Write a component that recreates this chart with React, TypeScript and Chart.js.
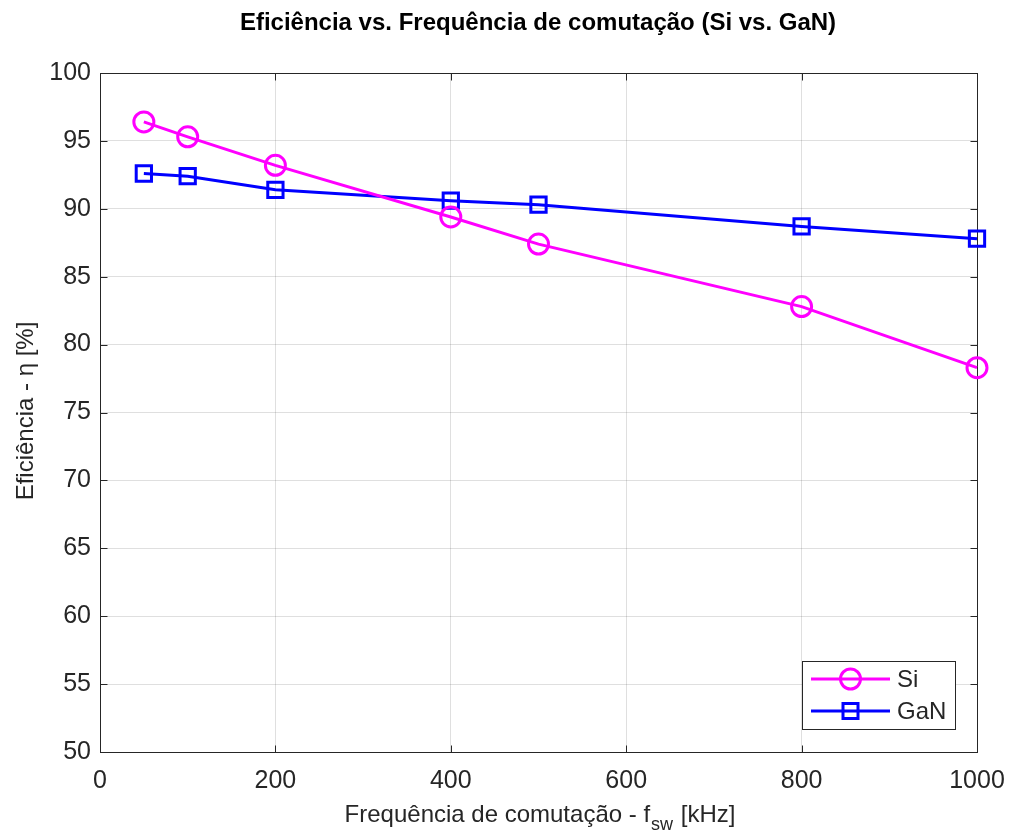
import React, { useEffect, useRef } from 'react';
import { Chart, registerables } from 'chart.js';

Chart.register(...registerables);

const freqs = [50, 100, 200, 400, 500, 800, 1000];
const siEff = [96.4, 95.3, 93.2, 89.4, 87.4, 82.8, 78.3];
const ganEff = [92.6, 92.4, 91.4, 90.6, 90.3, 88.7, 87.8];
const xTicks = [0, 200, 400, 600, 800, 1000];
const yTicks = [50, 55, 60, 65, 70, 75, 80, 85, 90, 95, 100];
const seriesNames = ['Si', 'GaN'];
const titleText = 'Eficiência vs. Frequência de comutação (Si vs. GaN)';
const yTitleText = 'Eficiência - η [%]';
const xTitleMain = 'Frequência de comutação - f';
const xTitleSub = 'sw';
const xTitleEnd = ' [kHz]';

const W = 1013;
const H = 836;
const FONT = '"Liberation Sans", Arial, Helvetica, sans-serif';
const AXIS_COLOR = '#262626';
const SI_COLOR = '#FF00FF';
const GAN_COLOR = '#0000FF';
const TICK_SIZE = 25;
const LABEL_SIZE = 24;

const px = (v: number) => Math.round(v) + 0.5;

const decorPlugin = {
  id: 'decor',
  beforeDatasetsDraw(chart: any) {
    const { ctx, chartArea: a, scales } = chart;
    ctx.save();
    ctx.strokeStyle = AXIS_COLOR;
    ctx.lineWidth = 1;
    const L = px(a.left), R = px(a.right), T = px(a.top), B = px(a.bottom);
    ctx.strokeRect(L, T, R - L, B - T);
    const tl = 7;
    ctx.beginPath();
    xTicks.forEach((v) => {
      const x = px(scales.x.getPixelForValue(v));
      ctx.moveTo(x, B);
      ctx.lineTo(x, B - tl);
      ctx.moveTo(x, T);
      ctx.lineTo(x, T + tl);
    });
    yTicks.forEach((v) => {
      const y = px(scales.y.getPixelForValue(v));
      ctx.moveTo(L, y);
      ctx.lineTo(L + tl, y);
      ctx.moveTo(R, y);
      ctx.lineTo(R - tl, y);
    });
    ctx.stroke();
    ctx.restore();
  },
  afterDraw(chart: any) {
    const { ctx, chartArea: a } = chart;
    ctx.save();
    // Title
    ctx.fillStyle = '#000';
    ctx.font = `bold 24px ${FONT}`;
    ctx.textAlign = 'center';
    ctx.textBaseline = 'middle';
    ctx.fillText(titleText, 538, 23);

    // Y title
    ctx.fillStyle = AXIS_COLOR;
    ctx.font = `${LABEL_SIZE}px ${FONT}`;
    ctx.save();
    ctx.translate(26, 411);
    ctx.rotate(-Math.PI / 2);
    ctx.textAlign = 'center';
    ctx.textBaseline = 'middle';
    ctx.fillText(yTitleText, 0, 0);
    ctx.restore();

    // X title with subscript
    const mainFont = `${LABEL_SIZE}px ${FONT}`;
    const subFont = `18px ${FONT}`;
    ctx.font = mainFont;
    const w1 = ctx.measureText(xTitleMain).width;
    const w3 = ctx.measureText(xTitleEnd).width;
    ctx.font = subFont;
    const w2 = ctx.measureText(xTitleSub).width;
    const total = w1 + w2 + w3 + 2;
    const x0 = 540 - total / 2;
    const yb = 822;
    ctx.textAlign = 'left';
    ctx.textBaseline = 'alphabetic';
    ctx.font = mainFont;
    ctx.fillText(xTitleMain, x0, yb);
    ctx.font = subFont;
    ctx.fillText(xTitleSub, x0 + w1 + 1, yb + 8);
    ctx.font = mainFont;
    ctx.fillText(xTitleEnd, x0 + w1 + w2 + 2, yb);

    // Legend
    const lx = 802.5, ly = 661.5, lw = 153, lh = 68;
    ctx.fillStyle = '#fff';
    ctx.fillRect(lx, ly, lw, lh);
    ctx.strokeStyle = AXIS_COLOR;
    ctx.lineWidth = 1;
    ctx.strokeRect(lx, ly, lw, lh);
    const rows = [
      { name: seriesNames[0], color: SI_COLOR, y: 679, marker: 'circle' },
      { name: seriesNames[1], color: GAN_COLOR, y: 711, marker: 'rect' },
    ];
    rows.forEach((r) => {
      ctx.strokeStyle = r.color;
      ctx.lineWidth = 3;
      ctx.beginPath();
      ctx.moveTo(811, r.y);
      ctx.lineTo(890, r.y);
      ctx.stroke();
      ctx.beginPath();
      if (r.marker === 'circle') {
        ctx.arc(850.5, r.y, 10, 0, Math.PI * 2);
      } else {
        ctx.rect(850.5 - 7.5, r.y - 7.5, 15, 15);
      }
      ctx.stroke();
      ctx.fillStyle = AXIS_COLOR;
      ctx.font = `${LABEL_SIZE}px ${FONT}`;
      ctx.textAlign = 'left';
      ctx.textBaseline = 'middle';
      ctx.fillText(r.name, 897, r.y + 1);
    });
    ctx.restore();
  },
};

export default function App() {
  const ref = useRef<HTMLCanvasElement>(null);
  useEffect(() => {
    if (!ref.current) return;
    const chart = new Chart(ref.current, {
      type: 'line',
      data: {
        datasets: [
          {
            label: seriesNames[0],
            data: freqs.map((f, i) => ({ x: f, y: siEff[i] })),
            borderColor: SI_COLOR,
            borderWidth: 3,
            pointStyle: 'circle',
            pointRadius: 10,
            pointBorderWidth: 3,
            pointBorderColor: SI_COLOR,
            pointBackgroundColor: 'rgba(0,0,0,0)',
            tension: 0,
            clip: false as any,
          },
          {
            label: seriesNames[1],
            data: freqs.map((f, i) => ({ x: f, y: ganEff[i] })),
            borderColor: GAN_COLOR,
            borderWidth: 3,
            pointStyle: 'rect',
            pointRadius: 10.8,
            pointBorderWidth: 3,
            pointBorderColor: GAN_COLOR,
            pointBackgroundColor: 'rgba(0,0,0,0)',
            tension: 0,
            clip: false as any,
          },
        ],
      },
      options: {
        responsive: false,
        animation: false,
        devicePixelRatio: 1,
        layout: { padding: { top: 73, right: 36, bottom: 0, left: 0 } },
        plugins: {
          legend: { display: false },
          title: { display: false },
          tooltip: { enabled: false },
        },
        scales: {
          x: {
            type: 'linear',
            min: 0,
            max: 1000,
            afterFit: (s: any) => {
              s.height = 84;
              s.paddingLeft = 0;
              s.paddingRight = 0;
            },
            afterBuildTicks: (s: any) => { s.ticks = xTicks.map((v) => ({ value: v })); },
            grid: { color: 'rgba(38,38,38,0.15)', drawTicks: false, lineWidth: 1 },
            border: { display: false },
            ticks: {
              padding: 14,
              color: AXIS_COLOR,
              font: { family: FONT, size: TICK_SIZE },
              maxRotation: 0,
              callback: (v: any) => String(v),
            },
          },
          y: {
            type: 'linear',
            min: 50,
            max: 100,
            afterFit: (s: any) => {
              s.width = 100;
              s.paddingTop = 0;
              s.paddingBottom = 0;
            },
            afterBuildTicks: (s: any) => { s.ticks = yTicks.map((v) => ({ value: v })); },
            grid: { color: 'rgba(38,38,38,0.15)', drawTicks: false, lineWidth: 1 },
            border: { display: false },
            ticks: {
              padding: 9,
              color: AXIS_COLOR,
              font: { family: FONT, size: TICK_SIZE },
              callback: (v: any) => String(v),
            },
          },
        },
      },
      plugins: [decorPlugin],
    });
    return () => chart.destroy();
  }, []);
  return (
    <div style={{ position: 'absolute', left: 0, top: 0, width: W, height: H, background: '#fff' }}>
      <canvas ref={ref} width={W} height={H} style={{ display: 'block', width: W, height: H }} />
    </div>
  );
}
